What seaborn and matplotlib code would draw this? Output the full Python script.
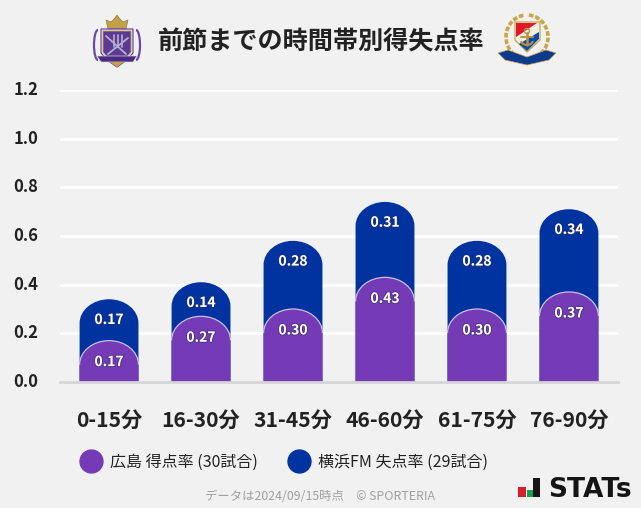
import matplotlib
matplotlib.use("Agg")
import matplotlib.pyplot as plt
import matplotlib.patheffects as pe
from matplotlib.lines import Line2D
from matplotlib.path import Path
from matplotlib.patches import PathPatch, Polygon, Circle, Rectangle, Ellipse, Arc
from matplotlib.transforms import ScaledTranslation
import pandas as pd
import seaborn as sns

periods = ["0-15分", "16-30分", "31-45分", "46-60分", "61-75分", "76-90分"]
hiroshima = [0.17, 0.27, 0.30, 0.43, 0.30, 0.37]
yokohama = [0.17, 0.14, 0.28, 0.31, 0.28, 0.34]
yticks = [0.0, 0.2, 0.4, 0.6, 0.8, 1.0, 1.2]
title = "前節までの時間帯別得失点率"
label_h = "広島 得点率 (30試合)"
label_y = "横浜FM 失点率 (29試合)"
footer = "データは2024/09/15時点　© SPORTERIA"

PURPLE = "#753bb7"
NAVY = "#0033a0"
BG = "#f1f1f1"
INK = "#222222"

sns.set_theme(style="white")
plt.rcParams["font.family"] = ["Noto Sans CJK JP", "DejaVu Sans"]

W, H = 641, 508
fig = plt.figure(figsize=(W / 100, H / 100), dpi=100, facecolor=BG)
ax = fig.add_axes([60 / W, 1 - 382 / H, 558 / W, 292 / H], facecolor=BG)

df = pd.DataFrame({"period": periods, "h": hiroshima, "y": yokohama})
df["total"] = df["h"] + df["y"]

sns.barplot(data=df, x="period", y="total", color=NAVY, width=0.64, saturation=1, ax=ax, zorder=3)
n_back = len(ax.patches)
sns.barplot(data=df, x="period", y="h", color=PURPLE, width=0.64, saturation=1, ax=ax, zorder=4)

ax.set_xlim(-0.533, 5.533)
ax.set_ylim(0, 1.2)
ax.set_xlabel("")
ax.set_ylabel("")

RY = 24 / (292 / 1.2)  # dome height in data units
K = 0.5523


def dome(x0, x1, top):
    xm = (x0 + x1) / 2
    rx = (x1 - x0) / 2
    s = top - RY
    verts = [(x0, max(s, 0)), (x0, s + K * RY), (xm - K * rx, top), (xm, top),
             (xm + K * rx, top), (x1, s + K * RY), (x1, s)]
    return verts


for i, bar in enumerate(list(ax.patches)):
    x0, w, top = bar.get_x(), bar.get_width(), bar.get_height()
    bar.set_visible(False)
    v = dome(x0, x0 + w, top)
    codes = [Path.MOVETO, Path.CURVE4, Path.CURVE4, Path.CURVE4, Path.CURVE4, Path.CURVE4, Path.CURVE4]
    closed = [(x0, 0)] + v[0:] + [(x0 + w, 0), (x0, 0)]
    ccodes = [Path.MOVETO, Path.LINETO] + codes[1:] + [Path.LINETO, Path.CLOSEPOLY]
    back = i < n_back
    ax.add_patch(PathPatch(Path(closed, ccodes), facecolor=NAVY if back else PURPLE,
                           edgecolor="none", zorder=3 if back else 4))
    if not back:
        ax.add_patch(PathPatch(Path(v, codes), facecolor="none", edgecolor="#c8c0e6",
                               lw=0.9, zorder=5))

shadow = [pe.withStroke(linewidth=1.4, foreground="#30305a", alpha=0.5)]
for i, (a, b) in enumerate(zip(hiroshima, yokohama)):
    ax.text(i, a - 0.088, f"{a:.2f}", color="white", ha="center", va="center",
            fontsize=10, fontweight="bold", zorder=6, path_effects=shadow)
    ax.text(i, a + b - 0.085, f"{b:.2f}", color="white", ha="center", va="center",
            fontsize=10, fontweight="bold", zorder=6, path_effects=shadow)

ax.set_yticks(yticks)
ax.set_yticklabels([f"{t:.1f}" for t in yticks], fontsize=12, fontweight="bold", color=INK)
ax.set_xticks(range(len(periods)))
ax.set_xticklabels(periods, fontsize=15.2, fontweight="bold", color=INK)
ax.tick_params(axis="both", length=0)
ax.tick_params(axis="x", pad=20.3)
ax.tick_params(axis="y", pad=15.5)
up = ScaledTranslation(0, 2 / 100, fig.dpi_scale_trans)
for lab in ax.get_yticklabels():
    lab.set_ha("right")
    lab.set_transform(lab.get_transform() + up)
ax.grid(axis="y", color="white", lw=2, zorder=1)
ax.set_axisbelow(True)
for side in ("top", "right", "left"):
    ax.spines[side].set_visible(False)
ax.spines["bottom"].set_color("#d6d6d6")
ax.spines["bottom"].set_linewidth(2)
ax.spines["bottom"].set_zorder(7)

handles = [Line2D([], [], ls="", marker="o", ms=16.5, color=PURPLE),
           Line2D([], [], ls="", marker="o", ms=16.5, color=NAVY)]
fig.legend(handles, [label_h, label_y], loc="center left", bbox_to_anchor=(75 / W, 1 - 462 / H),
           ncol=2, frameon=False, fontsize=11.5, labelcolor=INK, handletextpad=0.22,
           columnspacing=1.54, borderaxespad=0, borderpad=0)

fig.text(321 / W, 1 - 42 / H, title, ha="center", va="center", fontsize=18.1,
         fontweight="bold", color=INK)
fig.text(320 / W, 1 - 497 / H, footer, ha="center", va="center", fontsize=8.9, color="#a0a0a0")

# overlay in pixel coordinates for the crests and the brand mark
ov = fig.add_axes([0, 0, 1, 1], facecolor="none")
ov.set_xlim(0, W)
ov.set_ylim(H, 0)
ov.axis("off")

# Hiroshima crest
ov.add_patch(Polygon([(106, 20), (111, 22), (114, 19), (117, 15), (120, 19), (123, 22), (128, 20), (126, 29), (108, 29)],
                     facecolor="#c2a04a", edgecolor="#8a7030", lw=0.4))
for cx, t1, t2 in [(98, 90, 270), (136, 270, 90)]:
    ov.add_patch(Arc((cx, 45), 8, 30, theta1=t1, theta2=t2, edgecolor="#6a4a9e", lw=1.6))
ov.add_patch(Polygon([(101, 29), (133, 29), (133, 53), (127, 60), (117, 67), (107, 60), (101, 53)],
                     facecolor="#e8e2f0", edgecolor="#5c3a92", lw=0.8))
ov.add_patch(Polygon([(103, 31), (131, 31), (131, 52), (126, 58), (108, 58), (103, 52)],
                     facecolor="#5b3a92", edgecolor="#c2a04a", lw=0.6))
ov.plot([106, 126], [36, 54], color="#b9aed0", lw=1.3)
ov.plot([108, 128], [54, 38], color="#b9aed0", lw=1.3)
for bx in (114, 118, 122):
    ov.plot([bx, bx], [35, 47], color="#b9aed0", lw=1.2)
ov.add_patch(Polygon([(97, 56), (137, 56), (133, 62), (101, 62)], facecolor="#4a2b7d",
                     edgecolor="#d8d0e8", lw=0.5))
ov.add_patch(Polygon([(110, 62), (124, 62), (117, 67)], facecolor="#c2a04a", edgecolor="none"))

# Yokohama crest
ov.add_patch(Arc((527, 37), 42, 44, theta1=75, theta2=265, edgecolor="#c9a548", lw=2.6, ls=(0, (1.3, 0.5))))
ov.add_patch(Arc((527, 37), 42, 44, theta1=275, theta2=105, edgecolor="#c9a548", lw=2.6, ls=(0, (1.3, 0.5))))
ov.add_patch(Polygon([(515, 22), (540, 22), (540, 40), (527, 52), (515, 40)], facecolor="#f2eee2", edgecolor="#c9a548", lw=0.9))
ov.add_patch(Polygon([(516, 23), (537, 23), (516, 37)], facecolor="#e0162b", edgecolor="none"))
ov.add_patch(Polygon([(539, 32), (539, 39), (527, 51), (519, 44)], facecolor="#0a4aa8", edgecolor="none"))
ov.add_patch(Circle((527, 31), 2.5, facecolor="none", edgecolor="#b8923a", lw=1))
ov.plot([527, 527], [33, 45], color="#b8923a", lw=1.8)
ov.plot([521, 533], [37, 37], color="#b8923a", lw=1.4)
ov.add_patch(Arc((527, 39), 13, 12, theta1=20, theta2=160, edgecolor="#b8923a", lw=1.5))
ov.add_patch(Polygon([(498, 53), (508, 50), (527, 57), (546, 50), (556, 53), (549, 60), (527, 65), (505, 60)],
                     facecolor="#0b3a8e", edgecolor="#c9a548", lw=0.5))

# STATs mark
ov.add_patch(Rectangle((518, 487), 8, 9.5, facecolor="#d81e2c", edgecolor="none"))
ov.add_patch(Rectangle((527, 490), 5.5, 6.5, facecolor="#12a150", edgecolor="none"))
ov.add_patch(Rectangle((533, 478), 7, 18.5, facecolor="#151515", edgecolor="none"))
ov.text(548, 490, "STATs", ha="left", va="center", fontsize=19, fontweight="bold",
        color="#151515", family=["DejaVu Sans"])

fig.savefig("out.png", dpi=100, facecolor=BG)
